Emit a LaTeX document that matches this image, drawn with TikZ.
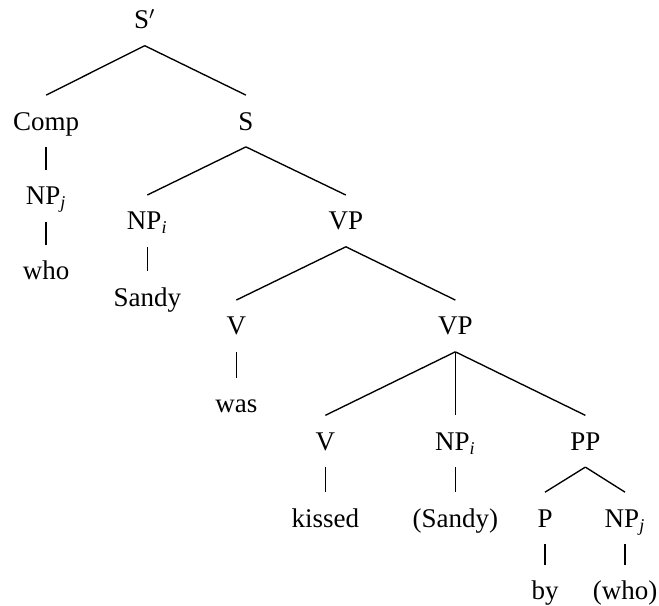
\documentclass[tikz,border=0pt,12pt]{standalone}
\usepackage{fontspec}
\setmainfont{LiberationSerif}[Extension=.ttf, UprightFont=*-Regular,
  ItalicFont=*-Italic, BoldFont=*-Bold, BoldItalicFont=*-BoldItalic]

\tikzset{
  lbl/.style={anchor=base, inner xsep=0pt, inner ysep=7.3pt,
              text height=8pt, text depth=0pt},
  branch/.style={line width=0.6pt}
}

\begin{document}
\begin{tikzpicture}
        \useasboundingbox (0,0) rectangle (10.29,-9.45);

        % Top: S' -> Comp S
        \node[lbl] (sbar) at (2.26,-0.45) {S$'$};
        \node[lbl] (comp) at (0.72,-2.03) {Comp};
        \node[lbl] (s)    at (3.84,-2.03) {S};

        % Comp branch
        \node[lbl] (npj) at (0.72,-3.20) {NP\textsubscript{\textit{j}}};
        \node[lbl] (who) at (0.72,-4.37) {who};

        % S -> NP VP
        \node[lbl] (npi)   at (2.30,-3.59) {NP\textsubscript{\textit{i}}};
        \node[lbl] (vp)    at (5.40,-3.59) {VP};
        \node[lbl] (sandy) at (2.30,-4.78) {Sandy};

        % VP -> V VP
        \node[lbl] (v)   at (3.69,-5.23) {V};
        \node[lbl] (vpb) at (7.11,-5.23) {VP};
        \node[lbl] (was) at (3.69,-6.44) {was};

        % lower VP -> V NP PP
        \node[lbl] (vb)     at (5.08,-7.03) {V};
        \node[lbl] (npib)   at (7.11,-7.03) {NP\textsubscript{\textit{i}}};
        \node[lbl] (pp)     at (9.14,-7.03) {PP};
        \node[lbl] (kissed) at (5.08,-8.23) {kissed};
        \node[lbl] (sandyb) at (7.11,-8.23) {(Sandy)};

        % PP -> P NP
        \node[lbl] (p)    at (8.51,-8.23) {P};
        \node[lbl] (npjb) at (9.76,-8.23) {NP\textsubscript{\textit{j}}};
        \node[lbl] (by)   at (8.51,-9.36) {by};
        \node[lbl] (whob) at (9.76,-9.36) {(who)};

        % Branches
        \draw[branch] (sbar.south) -- (comp.north);
        \draw[branch] (sbar.south) -- (s.north);
        \draw[branch] (comp.south) -- (npj.north);
        \draw[branch] (npj.south) -- (who.north);
        \draw[branch] (s.south) -- (npi.north);
        \draw[branch] (s.south) -- (vp.north);
        \draw[branch] (npi.south) -- (sandy.north);
        \draw[branch] (vp.south) -- (v.north);
        \draw[branch] (vp.south) -- (vpb.north);
        \draw[branch] (v.south) -- (was.north);
        \draw[branch] (vpb.south) -- (vb.north);
        \draw[branch] (vpb.south) -- (npib.north);
        \draw[branch] (vpb.south) -- (pp.north);
        \draw[branch] (vb.south) -- (kissed.north);
        \draw[branch] (npib.south) -- (sandyb.north);
        \draw[branch] (pp.south) -- (p.north);
        \draw[branch] (pp.south) -- (npjb.north);
        \draw[branch] (p.south) -- (by.north);
        \draw[branch] (npjb.south) -- (whob.north);
\end{tikzpicture}
\end{document}
